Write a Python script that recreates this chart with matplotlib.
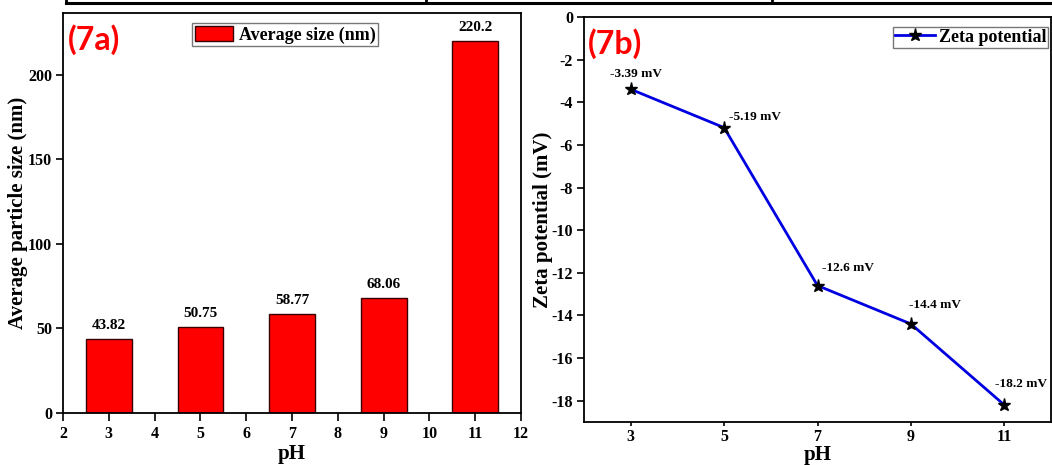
import matplotlib
matplotlib.use("Agg")
import matplotlib.pyplot as plt
from matplotlib.lines import Line2D

# Data
ph = [3, 5, 7, 9, 11]
avg_size = [43.82, 50.75, 58.77, 68.06, 220.2]
size_labels = ["43.82", "50.75", "58.77", "68.06", "220.2"]
zeta = [-3.39, -5.19, -12.6, -14.4, -18.2]
zeta_labels = ["-3.39 mV", "-5.19 mV", "-12.6 mV", "-14.4 mV", "-18.2 mV"]
left_xticks = [2, 3, 4, 5, 6, 7, 8, 9, 10, 11, 12]
left_yticks = [0, 50, 100, 150, 200]
right_xticks = [3, 5, 7, 9, 11]
right_yticks = [0, -2, -4, -6, -8, -10, -12, -14, -16, -18]

serif = "Liberation Serif"
plt.rcParams["font.family"] = serif
plt.rcParams["font.weight"] = "bold"
plt.rcParams["axes.unicode_minus"] = False

W, H = 1052, 465
fig = plt.figure(figsize=(W / 100, H / 100), dpi=100)

# Table frame above the panels
fig.add_artist(Line2D([66 / W, 1.0], [1 - 3 / H, 1 - 3 / H], color="black", lw=2.2))
for xv in (66, 426, 772):
    fig.add_artist(Line2D([xv / W, xv / W], [1 - 3 / H, 1.0], color="black", lw=2.0))

TICK_FS = 11.5
LABEL_FS = 15

# ---- (7a) bar chart ----
ax1 = fig.add_axes([63 / W, 1 - 413 / H, (521 - 63) / W, (413 - 13) / H])
ax1.bar(ph, avg_size, width=1.0, color="#ff0000", edgecolor="#3a0000", linewidth=1.0,
        label="Average size (nm)", zorder=2)
for x, v, s in zip(ph, avg_size, size_labels):
    ax1.text(x, v + 4, s, ha="center", va="bottom", fontsize=11, fontweight="bold")
ax1.set_xlim(2, 12)
ax1.set_ylim(0, 236.5)
ax1.set_xticks(left_xticks)
ax1.set_yticks(left_yticks)
ax1.tick_params(axis="y", direction="out", length=5, width=1.2, labelsize=TICK_FS, pad=3)
ax1.tick_params(axis="x", direction="out", length=5.5, width=1.2, labelsize=TICK_FS, pad=4)
for t in ax1.get_xticklabels() + ax1.get_yticklabels():
    t.set_fontweight("bold")
for sp in ax1.spines.values():
    sp.set_linewidth(1.3)
ax1.set_xlabel("pH", fontsize=LABEL_FS, fontweight="bold", va="center")
ax1.xaxis.set_label_coords(0.5, -(454 - 413) / 400)
ax1.set_ylabel("Average particle size (nm)", fontsize=LABEL_FS, fontweight="bold", va="center")
ax1.yaxis.set_label_coords(-(63 - 18) / 458, 0.5)
leg1 = ax1.legend(loc="upper left", bbox_to_anchor=((192 - 63) / 458, (413 - 23) / 400),
                  fontsize=13, frameon=True, fancybox=False, edgecolor="#555555",
                  handlelength=2.1, handleheight=0.95, borderpad=0.15, handletextpad=0.35,
                  borderaxespad=0)
leg1.get_frame().set_linewidth(1.0)
for t in leg1.get_texts():
    t.set_fontweight("bold")
ax1.text(0.011, 0.972, "(7a)", transform=ax1.transAxes, ha="left", va="top",
         fontsize=23, fontweight="bold", color="#ff0000", family="Lato")

# ---- (7b) zeta potential ----
ax2 = fig.add_axes([584 / W, 1 - 422 / H, (1051 - 584) / W, (422 - 17) / H])
ax2.plot(ph, zeta, color="#0000e0", lw=2.0, marker="*", markersize=9.5,
         markerfacecolor="black", markeredgecolor="black", label="Zeta potential", zorder=3)
offsets = [(-15, 7), (3.5, 3.5), (3.5, 8.5), (-1.5, 9), (-6.5, 11)]
for x, v, s, (dx, dy) in zip(ph, zeta, zeta_labels, offsets):
    ax2.annotate(s, (x, v), xytext=(dx, dy), textcoords="offset points",
                 ha="left", va="bottom", fontsize=9.5, fontweight="bold")
ax2.set_xlim(2, 12)
ax2.set_ylim(-19, 0)
ax2.set_xticks(right_xticks)
ax2.set_yticks(right_yticks)
ax2.tick_params(axis="y", direction="out", length=5, width=1.2, labelsize=TICK_FS, pad=3)
ax2.tick_params(axis="x", direction="out", length=3, width=1.2, labelsize=TICK_FS, pad=2)
for t in ax2.get_xticklabels() + ax2.get_yticklabels():
    t.set_fontweight("bold")
for sp in ax2.spines.values():
    sp.set_linewidth(1.3)
ax2.set_xlabel("pH", fontsize=LABEL_FS, fontweight="bold", va="center")
ax2.xaxis.set_label_coords(0.5, -(455 - 422) / 405)
ax2.set_ylabel("Zeta potential (mV)", fontsize=LABEL_FS, fontweight="bold", va="center")
ax2.yaxis.set_label_coords(-(584 - 543) / 467, 0.5)
leg2 = ax2.legend(loc="upper left", bbox_to_anchor=((893 - 584) / 467, (422 - 27) / 405),
                  fontsize=13, frameon=True, fancybox=False, edgecolor="#555555",
                  handlelength=2.2, borderpad=0.1, handletextpad=0.25, borderaxespad=0)
leg2.get_frame().set_linewidth(1.0)
for t in leg2.get_texts():
    t.set_fontweight("bold")
ax2.text(0.009, 0.972, "(7b)", transform=ax2.transAxes, ha="left", va="top",
         fontsize=23, fontweight="bold", color="#ff0000", family="Lato")

fig.savefig("out.png", dpi=100)
